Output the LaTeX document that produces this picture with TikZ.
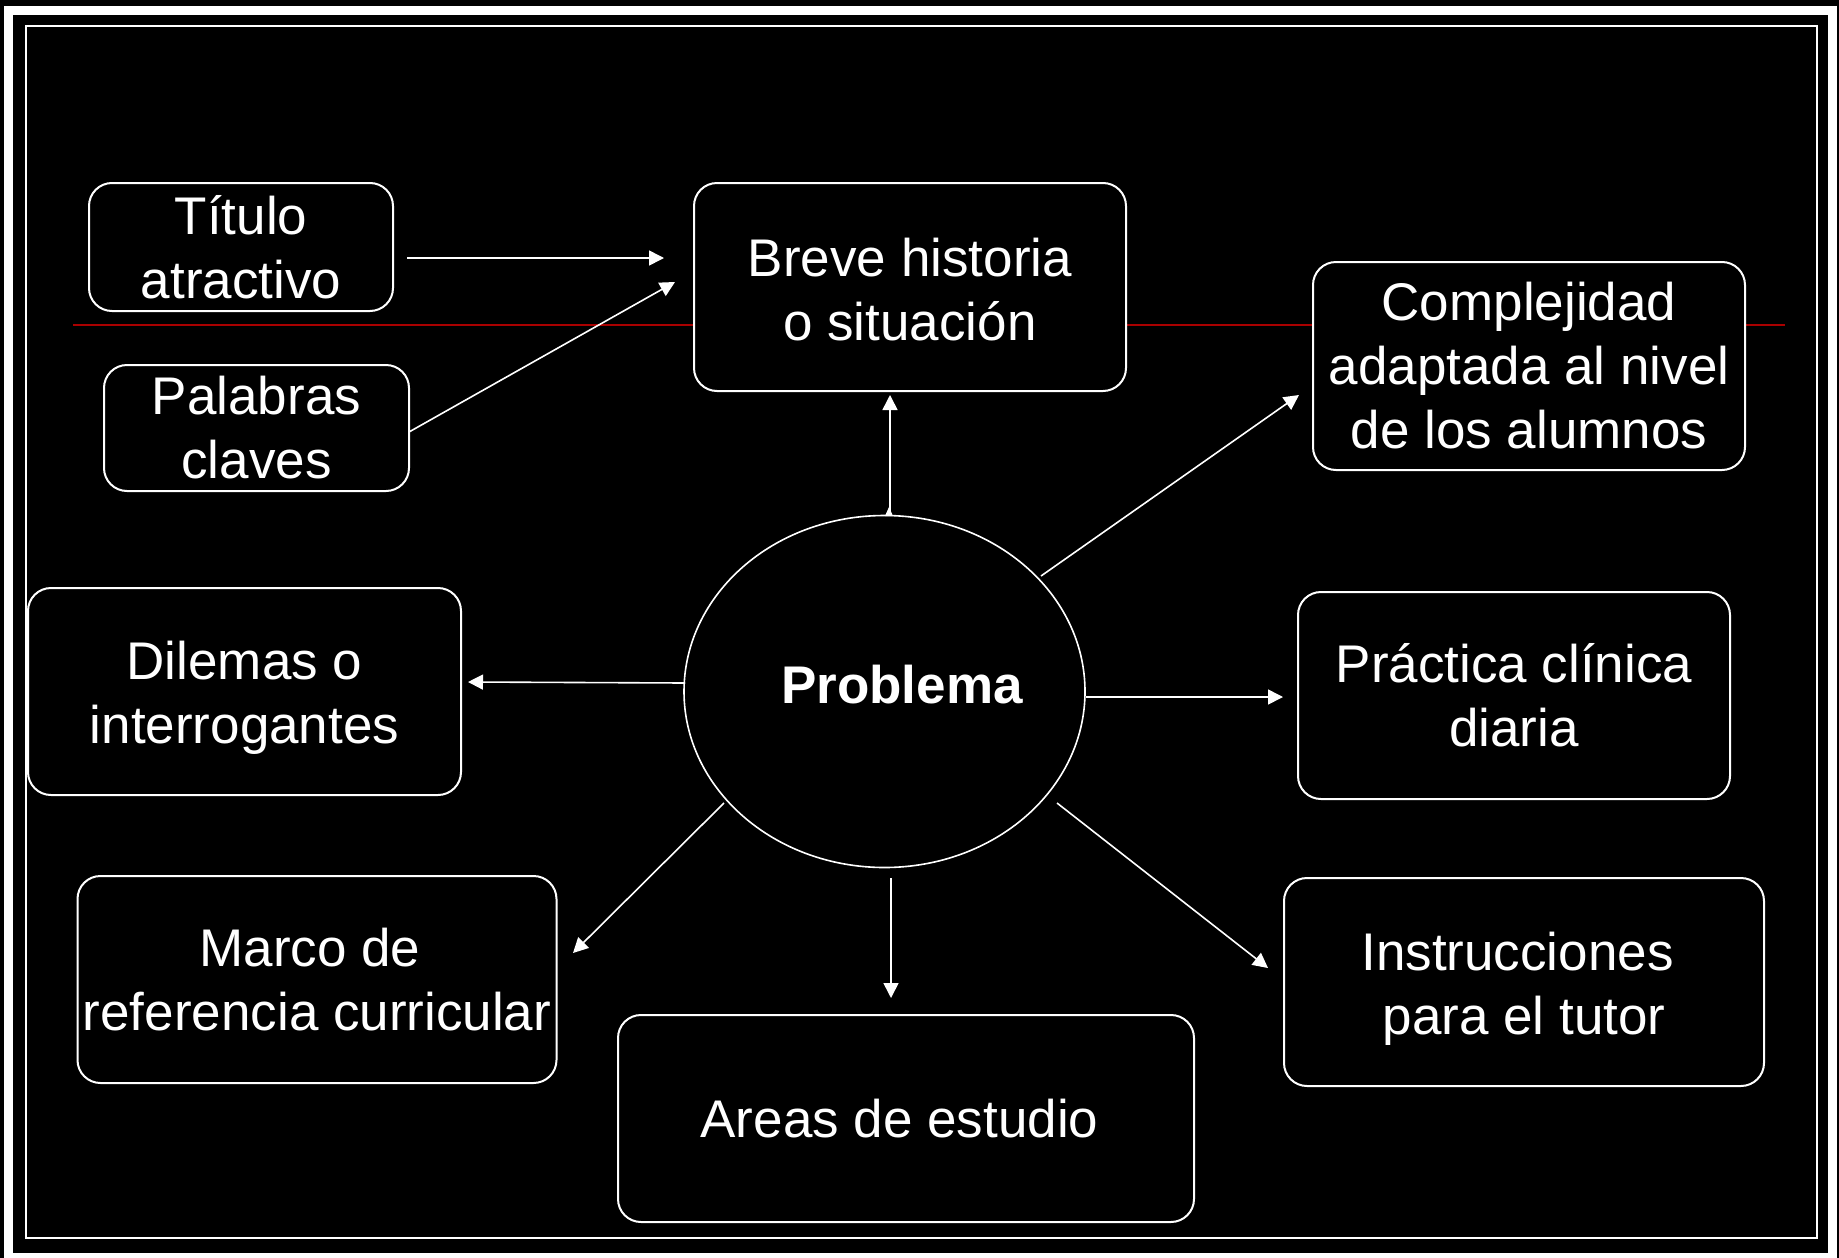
\documentclass[tikz,border=0pt]{standalone}
\usepackage{fontspec}
\setmainfont{Liberation Sans}
\usetikzlibrary{arrows.meta,shapes.geometric}
\definecolor{darkred}{RGB}{170,0,0}
\begin{document}
\begin{tikzpicture}[x=1pt,y=-1pt,
  box/.style={draw=white,line width=2pt,fill=black,rounded corners=23pt,inner sep=0pt,
    align=center,text=white,font=\fontsize{53}{64}\selectfont},
  arr/.style={draw=white,line width=1.6pt,-{Triangle[length=15pt,width=15pt]}},
  txt/.style={text=white,inner sep=0pt,align=center,font=\fontsize{53}{64}\selectfont}
]
\fill[black] (0,0) rectangle (1839,1258);
\useasboundingbox (0,0) rectangle (1839,1258);
\draw[white,line width=9pt] (8.5,10) rectangle (1832.5,1257.5);
\draw[white,line width=2pt] (26,26) rectangle (1817,1238);
\draw[darkred,line width=2.5pt] (73,325) -- (1785,325);

\node[box,minimum width=304pt,minimum height=128pt] (titulo) at (241,247) {Título\\atractivo};
\node[box,minimum width=305pt,minimum height=126pt] (palabras) at (256.5,428) {Palabras\\claves};
\node[box,minimum width=432pt,minimum height=208pt] (breve) at (910,287) {\rule{0pt}{43pt}Breve historia\\o situación};
\node[box,minimum width=432pt,minimum height=208pt] (compl) at (1529,366) {Complejidad\\adaptada al nivel\\de los alumnos};
\node[box,minimum width=433pt,minimum height=207pt] (dilemas) at (244.5,691.5) {\rule{0pt}{50pt}Dilemas o\\interrogantes};
\node[box,minimum width=432pt,minimum height=207pt] (practica) at (1514,695.5) {Práctica clínica\\diaria};
\node[box,minimum width=479pt,minimum height=207pt] (marco) at (317,979.5) {Marco de\kern14pt\\referencia curricular};
\node[box,minimum width=576pt,minimum height=207pt] (areas) at (906,1118.5) {Areas de estudio\kern13pt};
\node[box,minimum width=480pt,minimum height=208pt] (instr) at (1524,982) {\rule{0pt}{52pt}Instrucciones\kern13pt\\para el tutor};

\node[ellipse,draw=white,line width=1.6pt,fill=black,minimum width=401pt,minimum height=352pt,inner sep=0pt] (prob) at (884.5,691.5) {};
\node[txt,font=\fontsize{53}{64}\selectfont\bfseries] (probtext) at (902,685) {Problema};

% arrow end points
\coordinate (a1s) at (407,258);   \coordinate (a1e) at (664,258);
\coordinate (a2s) at (409,432);   \coordinate (a2e) at (675,282);
\coordinate (a3s) at (890,515);   \coordinate (a3e) at (890,395);
\coordinate (a4s) at (1041,576);  \coordinate (a4e) at (1299,395);
\coordinate (a5s) at (685,683);   \coordinate (a5e) at (468,682);
\coordinate (a6s) at (1086,697);  \coordinate (a6e) at (1283,697);
\coordinate (a7s) at (724,803);   \coordinate (a7e) at (573,953);
\coordinate (a8s) at (891,878);   \coordinate (a8e) at (891,998);
\coordinate (a9s) at (1057,803);  \coordinate (a9e) at (1268,968);

\draw[arr] (a1s) -- (a1e);
\draw[arr] (a2s) -- (a2e);
\draw[arr] (a3s) -- (a3e);
\fill[white] (885,516) -- (893,516) -- (889,507) -- cycle;
\draw[arr] (a4s) -- (a4e);
\draw[arr] (a5s) -- (a5e);
\draw[arr] (a6s) -- (a6e);
\draw[arr] (a7s) -- (a7e);
\draw[arr] (a8s) -- (a8e);
\draw[arr] (a9s) -- (a9e);
\end{tikzpicture}
\end{document}
